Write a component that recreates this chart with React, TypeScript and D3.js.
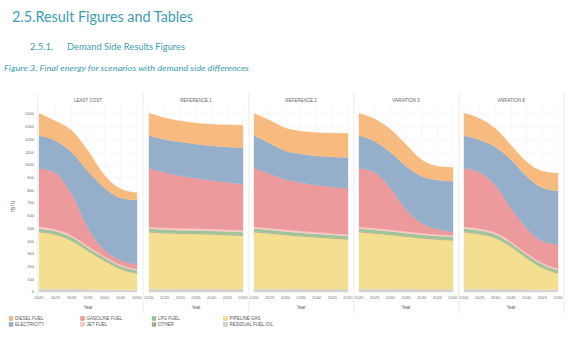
import React from "react";
import * as d3 from "d3";

const years = [2020, 2025, 2030, 2035, 2040, 2045, 2050];
const scenarios = ["LEAST COST", "REFERENCE 1", "REFERENCE 2", "VARIATION 3", "VARIATION 8"];
// stack order bottom -> top
const fuels = ["RESIDUAL FUEL OIL", "PIPELINE GAS", "OTHER", "LPG FUEL", "JET FUEL", "GASOLINE FUEL", "ELECTRICITY", "DIESEL FUEL"];
const legendOrder = ["DIESEL FUEL", "ELECTRICITY", "GASOLINE FUEL", "JET FUEL", "LPG FUEL", "OTHER", "PIPELINE GAS", "RESIDUAL FUEL OIL"];
const fuelColors = ["#d6d2cd", "#f4df91", "#b3a98f", "#9bc595", "#fbc6c4", "#ec9a9b", "#95afca", "#f7bb80"];
const yTicks = [0, 100, 200, 300, 400, 500, 600, 700, 800, 900, 1000, 1100, 1200, 1300, 1400];

// values per scenario, order of `fuels`
const leastCost = [
  [25, 25, 24, 22, 20, 18, 18],
  [445, 425, 378, 300, 225, 160, 127],
  [6, 6, 6, 5, 5, 5, 5],
  [22, 22, 22, 20, 20, 20, 20],
  [16, 15, 14, 12, 10, 10, 10],
  [459, 442, 326, 141, 50, 37, 38],
  [257, 255, 330, 450, 490, 490, 506],
  [175, 155, 170, 160, 100, 70, 56],
];
const reference1 = [
  [25, 25, 24, 24, 24, 23, 23],
  [445, 437, 434, 432, 428, 424, 419],
  [6, 6, 6, 6, 6, 6, 6],
  [22, 22, 22, 22, 22, 22, 22],
  [16, 15, 15, 15, 15, 15, 15],
  [459, 435, 414, 396, 382, 372, 363],
  [257, 260, 265, 270, 273, 278, 287],
  [175, 170, 165, 165, 170, 175, 177],
];
const reference2 = [
  [25, 25, 24, 24, 23, 23, 22],
  [445, 435, 424, 414, 405, 397, 390],
  [6, 6, 6, 6, 6, 6, 6],
  [22, 22, 22, 22, 22, 22, 22],
  [16, 14, 14, 13, 13, 13, 13],
  [459, 428, 395, 381, 371, 364, 362],
  [257, 240, 225, 225, 230, 237, 243],
  [175, 180, 180, 180, 185, 188, 190],
];
const variation3 = [
  [25, 25, 24, 24, 23, 23, 22],
  [445, 435, 424, 411, 399, 389, 383],
  [6, 6, 6, 6, 6, 6, 6],
  [22, 22, 22, 22, 22, 22, 22],
  [16, 14, 14, 13, 13, 13, 13],
  [459, 438, 330, 174, 77, 42, 24],
  [257, 245, 280, 340, 370, 385, 400],
  [175, 175, 180, 170, 130, 110, 110],
];
const variation8 = [
  [25, 25, 24, 23, 22, 20, 20],
  [445, 430, 401, 332, 243, 170, 125],
  [6, 6, 6, 6, 5, 5, 5],
  [22, 22, 22, 22, 22, 22, 22],
  [16, 15, 14, 13, 12, 12, 12],
  [459, 442, 373, 264, 196, 171, 191],
  [257, 255, 300, 380, 410, 420, 420],
  [175, 170, 145, 115, 115, 130, 140],
];
const scenarioData = [leastCost, reference1, reference2, variation3, variation8];

const W = 572, H = 339;
const plotTop = 105, plotBottom = 292;
const teal = "#3e9db3";
const sans = "'Liberation Sans', Arial, sans-serif";

export default function App() {
  const y = d3.scaleLinear().domain([0, 1400]).range([plotBottom, 114]);
  const panelLeft = (i: number) => (i === 0 ? 39 : 149 + (i - 1) * 105);
  const panelWidth = (i: number) => (i === 0 ? 98 : 94);

  return (
    <svg width={W} height={H} style={{ position: "absolute", left: 0, top: 0, background: "#fff" }}>
      <text x={12} y={22} fontFamily="Lato, 'Open Sans', sans-serif" fontSize={15.5} fill={teal} textLength={181} lengthAdjust="spacingAndGlyphs">2.5.Result Figures and Tables</text>
      <text x={30} y={50} fontFamily="Lato, 'Open Sans', sans-serif" fontSize={9.5} fill={teal}>2.5.1.</text>
      <text x={67} y={50} fontFamily="Lato, 'Open Sans', sans-serif" fontSize={9.5} fill={teal} textLength={118} lengthAdjust="spacingAndGlyphs">Demand Side Results Figures</text>
      <text x={4} y={71} fontFamily="Lato, 'Open Sans', sans-serif" fontStyle="italic" fontSize={7.6} fill={teal} textLength={245} lengthAdjust="spacingAndGlyphs">Figure 3. Final energy for scenarios with demand side differences</text>

      {/* y axis labels */}
      {yTicks.map((t) => (
        <text key={t} x={34} y={y(t) + 1.4} textAnchor="end" fontFamily={sans} fontSize={4} fill="#666">{t}</text>
      ))}
      <text transform={`translate(15,${(plotTop + plotBottom) / 2 + 8}) rotate(-90)`} textAnchor="middle" fontFamily={sans} fontSize={4.5} fill="#666">TBTU</text>
      <line x1={37.5} x2={37.5} y1={93} y2={300} stroke="#e6e6e6" strokeWidth={0.6} />

      {scenarioData.map((data, i) => {
        const left = panelLeft(i);
        const w = panelWidth(i);
        const x = d3.scaleLinear().domain([2020, 2050]).range([left, left + w]);
        const rows = years.map((yr, j) => {
          const r: any = { year: yr };
          fuels.forEach((f, k) => (r[f] = data[k][j]));
          return r;
        });
        const series = d3.stack().keys(fuels)(rows);
        const area = d3
          .area<any>()
          .x((d) => x(d.data.year))
          .y0((d) => y(d[0]))
          .y1((d) => y(d[1]))
          .curve(d3.curveMonotoneX);
        const sep = left + w + 6;
        return (
          <g key={scenarios[i]}>
            <text x={left + w / 2} y={102} textAnchor="middle" fontFamily={sans} fontSize={4.5} fill="#666">{scenarios[i]}</text>
            {yTicks.map((t) => (
              <line key={t} x1={left} x2={left + w} y1={y(t)} y2={y(t)} stroke="#efefef" strokeWidth={0.5} />
            ))}
            {years.map((yr) => (
              <line key={yr} x1={x(yr)} x2={x(yr)} y1={plotTop} y2={plotBottom} stroke="#efefef" strokeWidth={0.5} />
            ))}
            {series.map((s, k) => (
              <path key={fuels[k]} d={area(s as any) || ""} fill={fuelColors[k]} stroke={fuelColors[k]} strokeWidth={0.3} />
            ))}
            {years.map((yr) => (
              <text key={yr} x={x(yr)} y={298.5} textAnchor="middle" fontFamily={sans} fontSize={4.2} fill="#777">{yr}</text>
            ))}
            <text x={left + w / 2} y={309} textAnchor="middle" fontFamily={sans} fontSize={4.5} fill="#555">Year</text>
            <line x1={sep} x2={sep} y1={92} y2={313} stroke="#e2e2e2" strokeWidth={0.7} />
          </g>
        );
      })}

      {/* legend */}
      {legendOrder.map((f, idx) => {
        const col = Math.floor(idx / 2);
        const row = idx % 2;
        const lx = 9 + col * 71.5;
        const ly = 316.5 + row * 6;
        const k = fuels.indexOf(f);
        return (
          <g key={f}>
            <rect x={lx} y={ly} width={4} height={4} fill={fuelColors[k]} stroke={d3.color(fuelColors[k])!.darker(0.6).toString()} strokeWidth={0.3} />
            <text x={lx + 6} y={ly + 3.7} fontFamily={sans} fontSize={4.5} fill="#555">{f}</text>
          </g>
        );
      })}
    </svg>
  );
}
